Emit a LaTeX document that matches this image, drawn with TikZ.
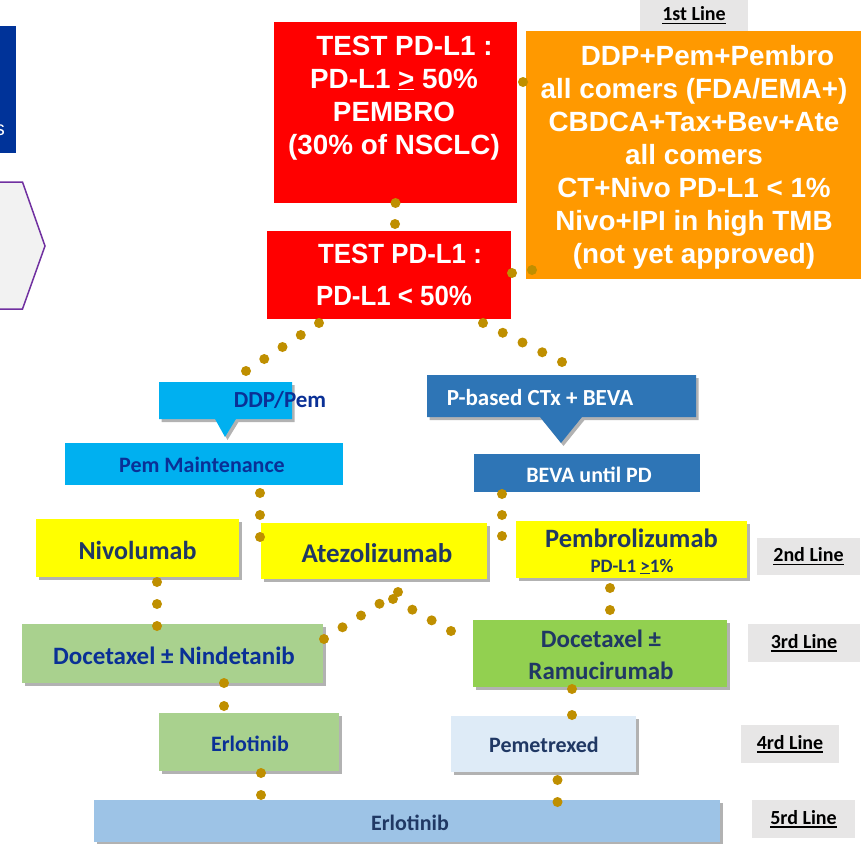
\documentclass[tikz,border=0pt]{standalone}
\usepackage{fontspec}
\setmainfont{Carlito}
\newfontfamily\arialfont{Liberation Sans}
\newsavebox\ulbox
\newcommand\ulx[1]{\sbox\ulbox{#1}\rlap{\raisebox{-3.5pt}{\rule{\wd\ulbox}{1.5pt}}}\usebox\ulbox}
\usetikzlibrary{shadows,calc}
\definecolor{dotc}{RGB}{191,143,0}
\definecolor{redc}{RGB}{255,0,0}
\definecolor{orangec}{RGB}{255,153,0}
\definecolor{cyanc}{RGB}{0,176,240}
\definecolor{steelc}{RGB}{46,117,182}
\definecolor{yellowc}{RGB}{255,255,0}
\definecolor{greenlc}{RGB}{169,209,142}
\definecolor{greenc}{RGB}{146,208,80}
\definecolor{palec}{RGB}{222,235,247}
\definecolor{barc}{RGB}{157,195,230}
\definecolor{greyc}{RGB}{231,230,230}
\definecolor{navyc}{RGB}{32,56,100}
\definecolor{royalc}{RGB}{10,48,150}
\definecolor{leftblue}{RGB}{0,51,153}
\definecolor{purplec}{RGB}{112,48,160}
\definecolor{hexfill}{RGB}{242,242,242}
\newcommand\dotcon[3]{%
  \path #1 coordinate (dcA) #2 coordinate (dcB);
  \foreach \k in {0,...,#3}{\fill[dotc] ($(dcA)!\k/#3!(dcB)$) circle (5pt);}}
\tikzset{
  bx/.style={anchor=north west, inner sep=0pt, outer sep=0pt},
  sh/.style={drop shadow={shadow xshift=2.5pt, shadow yshift=-3pt, fill=black, opacity=0.3}},
  redt/.style={text=white, font=\arialfont\bfseries\fontsize{27.8}{33}\selectfont, align=center, anchor=base, inner sep=0pt},
  cal/.style={font=\bfseries\fontsize{#1}{#1}\selectfont, inner sep=0pt},
  lbl/.style={bx, fill=greyc, font=\bfseries\fontsize{20}{20}\selectfont, text=black}
}
\begin{document}
\begin{tikzpicture}[x=1pt,y=-1pt]
\useasboundingbox (0,0) rectangle (866,843);
\clip (0,0) rectangle (866,843);

% left fragments
\node[bx, fill=leftblue, minimum width=16pt, minimum height=127pt] (lb) at (0,26) {};
\node[text=white, font=\arialfont\fontsize{20}{20}\selectfont, anchor=base east, inner sep=0pt] (ls) at (5,135) {s};
\draw[purplec, line width=1.5pt, fill=hexfill] (-10,182) -- (22.5,182) -- (45,246) -- (22.5,309) -- (-10,309) -- cycle;

% line labels
\node[lbl, minimum width=108pt, minimum height=31pt] (l1) at (640,0) {\ulx{1st Line}};
\node[lbl, minimum width=103pt, minimum height=37pt] (l2) at (757,538) {\ulx{2nd Line}};
\node[lbl, minimum width=112pt, minimum height=38pt] (l3) at (748,624) {\ulx{3rd Line}};
\node[lbl, minimum width=98pt, minimum height=38pt] (l4) at (741,725) {\ulx{4rd Line}};
\node[lbl, minimum width=103pt, minimum height=38pt] (l5) at (752,800) {\ulx{5rd Line}};

% top boxes
\node[bx, fill=redc, minimum width=243pt, minimum height=181pt] (r1) at (274,22) {};
\node[redt] (r1t) at (394,154) {\hspace*{21pt}TEST PD-L1 :\\PD-L1 \underline{>} 50\%\\PEMBRO\\(30\% of NSCLC)};
\node[bx, fill=orangec, minimum width=335pt, minimum height=248pt] (or) at (526,31) {};
\node[redt] (ort) at (694,263) {\hspace*{27pt}DDP+Pem+Pembro\\all comers (FDA/EMA+)\\CBDCA+Tax+Bev+Ate\\all comers\\CT+Nivo PD-L1 < 1\%\\Nivo+IPI in high TMB\\(not yet approved)};
\node[bx, fill=redc, minimum width=244pt, minimum height=88pt] (r2) at (267,231) {};
\node[redt, font=\arialfont\bfseries\fontsize{27.8}{42}\selectfont] (r2t) at (394,305) {\hspace*{12pt}\scalebox{0.93}[1]{TEST PD-L1 :}\\\scalebox{0.93}[1]{PD-L1 < 50\%}};

% callouts
\node[bx, minimum width=133pt, minimum height=37pt] (ddp) at (159,382) {};
\fill[cyanc, sh] (ddp.north west) -- (ddp.north east) -- (ddp.south east) -- ($(ddp.south west)+(77,0)$) -- ($(ddp.south west)+(66,18)$) -- ($(ddp.south west)+(56,0)$) -- (ddp.south west) -- cycle;
\node[cal=23, text=royalc] (ddpt) at (280,400) {DDP/Pem};
\node[bx, minimum width=269pt, minimum height=42pt] (pb) at (427,375) {};
\fill[steelc, sh] (pb.north west) -- (pb.north east) -- (pb.south east) -- ($(pb.south west)+(155,0)$) -- ($(pb.south west)+(134,26)$) -- ($(pb.south west)+(113,0)$) -- (pb.south west) -- cycle;
\node[cal=23, text=white] (pbt) at (540,398) {P-based CTx + BEVA};

\node[bx, fill=cyanc, minimum width=278pt, minimum height=42pt] (pm) at (65,443) {};
\node[cal=22, text=royalc] (pmt) at (202,465) {Pem Maintenance};
\node[bx, fill=steelc, minimum width=226pt, minimum height=38pt] (bv) at (474,454) {};
\node[cal=22, text=white] (bvt) at (589,475) {BEVA until PD};

% second line
\node[bx, fill=yellowc, sh, minimum width=203pt, minimum height=58pt] (niv) at (36,519) {};
\node[cal=26, text=navyc] (nivt) at (137.5,550) {Nivolumab};
\node[bx, fill=yellowc, sh, minimum width=226pt, minimum height=56pt] (ate) at (261,523) {};
\node[cal=27, text=navyc] (atet) at (377,553) {Atezolizumab};
\node[bx, fill=yellowc, sh, minimum width=231pt, minimum height=57pt] (pem) at (516,521) {};
\node[cal=26.5, text=navyc, anchor=base] (pemt1) at (631.5,547) {Pembrolizumab};
\node[cal=19, text=navyc, anchor=base] (pemt2) at (632,572) {PD-L1 \underline{>}1\%};

% third line
\node[bx, fill=greenlc, sh, minimum width=301pt, minimum height=59pt] (dn) at (22,624) {};
\node[cal=25, text=royalc] (dnt) at (174,656) {Docetaxel ± Nindetanib};
\node[bx, fill=greenc, sh, minimum width=254pt, minimum height=67pt] (dr) at (473,620) {};
\node[cal=25, text=navyc, anchor=base, align=center, font=\bfseries\fontsize{25}{32}\selectfont] (drt) at (601,679) {Docetaxel ±\\Ramucirumab};

% fourth / fifth line
\node[bx, fill=greenlc, sh, minimum width=180pt, minimum height=58pt] (erl) at (159,713) {};
\node[cal=22, text=royalc] (erlt) at (250,744) {Erlotinib};
\node[bx, fill=palec, sh, minimum width=185pt, minimum height=56pt] (pmx) at (451,716) {};
\node[cal=22, text=navyc] (pmxt) at (544,745) {Pemetrexed};
\node[bx, fill=barc, sh, minimum width=626pt, minimum height=42pt] (bar) at (94,800) {};
\node[cal=22, text=navyc] (bart) at (410,823) {Erlotinib};

% dotted connectors
\dotcon{($(r1.south)+(0,0)$)}{($(r2.north)+(6,-7)$)}{1}
\fill[dotc] ($(r1.north east)+(6,60)$) circle (5pt);
\dotcon{($(r2.east)+(1,-2)$)}{($(or.south west)+(6,-9)$)}{1}
\dotcon{($(r2.south west)+(52,4)$)}{($(ddp.north)+(20.5,-11)$)}{4}
\dotcon{($(r2.south east)+(-28,4)$)}{($(pb.north)+(0.5,-13)$)}{4}
\dotcon{($(pm.south east)+(-83,8)$)}{($(ate.north west)+(-1,14)$)}{2}
\dotcon{($(bv.south west)+(28,2)$)}{($(pem.north west)+(-14,15)$)}{2}
\dotcon{($(niv.south)+(19.5,5)$)}{($(dn.north)+(-15.5,2)$)}{2}
\dotcon{($(ate.south)+(24,13)$)}{($(dn.east)+(1,-14.5)$)}{4}
\dotcon{($(ate.south)+(19,20)$)}{($(dr.north west)+(-22,11)$)}{3}
\dotcon{($(pem.south)+(-21.5,10)$)}{($(dr.north)+(10,-10)$)}{1}
\dotcon{($(dn.south)+(51.5,0)$)}{($(erl.north)+(-25,-7)$)}{1}
\dotcon{($(dr.south)+(-28,2)$)}{($(pmx.north)+(28.5,-1)$)}{1}
\dotcon{($(erl.south)+(12,2)$)}{($(bar.north west)+(167,-5)$)}{1}
\dotcon{($(pmx.south)+(14,8)$)}{($(bar.north)+(150.5,2)$)}{1}
\end{tikzpicture}
\end{document}
